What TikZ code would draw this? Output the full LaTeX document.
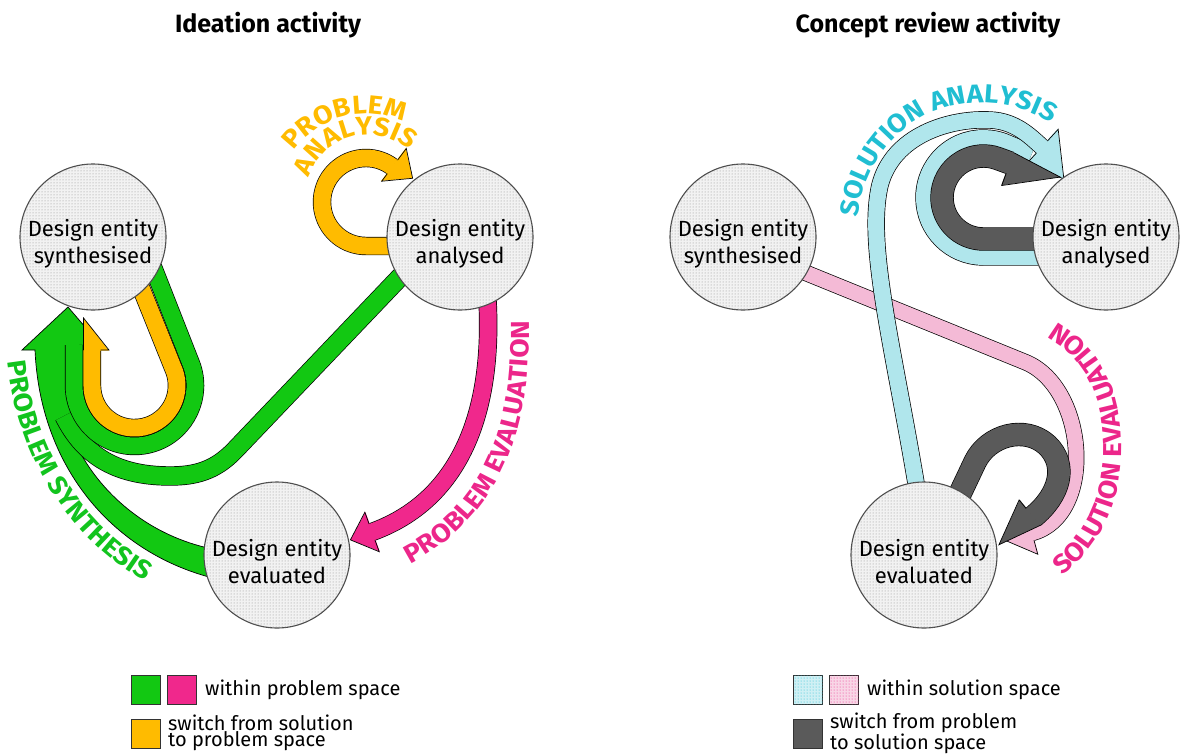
\documentclass[tikz,border=0pt]{standalone}
\usepackage{fontspec}
\setmainfont{Fira Sans}
\newfontfamily\tagfont{Fira Sans}[FakeStretch=1.08]
\usetikzlibrary{positioning,calc,decorations.markings,decorations.text,patterns}

\definecolor{probgreen}{RGB}{18,200,18}
\definecolor{probpink}{RGB}{240,40,140}
\definecolor{swyellow}{RGB}{255,187,0}
\definecolor{swgray}{RGB}{90,90,90}
\definecolor{solcyan}{RGB}{176,230,236}
\definecolor{solpink}{RGB}{244,186,214}
\definecolor{txtcyan}{RGB}{32,190,210}
\definecolor{txtpink}{RGB}{236,38,138}
\definecolor{txtgreen}{RGB}{18,196,30}

\newcommand{\entitytext}[1]{\rule{0pt}{31pt}Design entity\\#1}

\pgfdeclarelayer{bands}
\pgfsetlayers{bands,main}

\begin{document}
\begin{tikzpicture}[x=1pt, y=-1pt,
    entity/.style={circle, draw=black!70, line width=1.1pt, minimum size=146pt, inner sep=0pt,
        align=center, font=\fontsize{22}{27}\selectfont,
        fill=black!5, postaction={pattern=dots, pattern color=black!45}},
    heading/.style={font=\fontsize{25}{30}\selectfont\bfseries},
    band/.style n args={2}{draw=#1, line width=#2pt, line join=round,
        preaction={draw=black, line width=#2pt+1.4pt, line join=round}},
    fat/.style n args={6}{band={#1}{#2},
        postaction={decorate, decoration={markings, mark=at position 0.9999 with {
            \fill[#1] (-0.6pt,-#4pt) -- (#5pt,#6pt) -- (-0.6pt,#3pt) -- cycle;
            \draw[black, line width=0.7pt, line join=miter] (0pt,{#2*0.5pt}) -- (0pt,#3pt)
                -- (#5pt,#6pt) -- (0pt,-#4pt) -- (0pt,{-#2*0.5pt});}}}},
    curved/.style n args={2}{decorate, decoration={text along path, text align=center,
        text={|\tagfont\fontsize{26}{26}\selectfont\bfseries\color{#1}|#2}}},
    key/.style={draw=black!80, line width=1pt, minimum size=29pt, inner sep=0pt},
    keytext/.style={font=\fontsize{20}{15}\selectfont, align=left, inner sep=0pt}
]
\useasboundingbox (0,0) rectangle (1184,753);

\node[heading] (titleL) at (268,25) {Ideation activity};
\node[heading] (titleR) at (928,25) {Concept review activity};

\node[entity] (synL) at (93,237) {\entitytext{synthesised}};
\node[entity] (anaL) at (460,237) {\entitytext{analysed}};
\node[entity] (evaL) at (277,555) {\entitytext{evaluated}};
\node[entity] (synR) at (743,237) {\entitytext{synthesised}};
\node[entity] (anaR) at (1106,237) {\entitytext{analysed}};
\node[entity] (evaR) at (924,555) {\entitytext{evaluated}};

\begin{pgfonlayer}{bands}
% ideation: problem synthesis swoosh
\filldraw[fill=probgreen, draw=black, line width=0.7pt]
  ($(evaL.center)+(-69,-7)$) .. controls (130,530) and (80,470) .. (66,418) -- (86,395) -- (86,328)
  -- (68,307) -- (22,350) -- (35,350) .. controls (40,465) and (110,550) .. (209,577) -- cycle;
\draw[band={probgreen}{18}] ($(anaL.center)+(-58,38)$) -- (235,450)
  .. controls (215,471) and (195,476) .. (170,476) .. controls (112,476) and (82,452) .. (64,416);
\draw[band={probgreen}{17}] ($(synL.center)+(60,30)$) -- (191.4,364.8)
  arc[start angle=20, end angle=-180, radius=60.5pt] -- (74,345);
\draw[fat={swyellow}{17}{8.5}{17}{32}{8.5}] ($(synL.center)+(46,46)$) -- (174.4,371)
  arc[start angle=20, end angle=-180, radius=42.5pt] -- (92,350);
% problem analysis loop
\draw[fat={swyellow}{17}{23}{18}{23}{3}] ($(anaL.center)+(-60,9)$) -- (366,246)
  arc[start angle=270, end angle=53, radius=44pt];
% problem evaluation
\draw[fat={probpink}{17}{21}{21}{23}{0}] ($(anaL.center)+(27,55)$) to[out=-86, in=20] (372,532);

% concept review
\draw[fat={solpink}{15}{22}{16}{28}{0}] ($(synR.center)+(41,27)$) -- (1025,362)
  to[out=-22, in=15] (1032,533);
\draw[band={solcyan}{26}] ($(anaR.center)+(-58,15)$) -- (983.5,252)
  arc[start angle=270, end angle=70, radius=54.5pt] -- (1030,158);
\draw[fat={solcyan}{16}{24}{20}{38}{-9}] ($(evaR.center)+(-7,-66)$)
  .. controls (893,345) and (866,245) .. (880,185) .. controls (893,135) and (950,118) .. (990,120)
  .. controls (1015,121) and (1030,136) .. (1042,147);
\draw[fat={swgray}{22}{11}{24}{52}{4}] ($(anaR.center)+(-58,2)$) -- (983.5,239)
  arc[start angle=270, end angle=70, radius=41.5pt] -- (1010,163);
\draw[fat={swgray}{22}{11}{22}{44}{0}] ($(evaR.center)+(33,-55)$) -- (975,462)
  .. controls (988,435) and (1025,425) .. (1047,445) .. controls (1068,465) and (1060,495) .. (1033,517);
\end{pgfonlayer}

% activity labels
\path[curved={swyellow}{PROBLEM}] (279.3,186.7) arc[start angle=170, end angle=40, radius=88pt];
\path[curved={swyellow}{ANALYSIS}] (306,202) arc[start angle=185, end angle=25, radius=62pt];
\path[curved={txtgreen}{PROBLEM SYNTHESIS}] (5,320) .. controls (6,440) and (60,548) .. (182,600);
\path[curved={txtpink}{PROBLEM EVALUATION}] (378,578) .. controls (492,536) and (540,440) .. (527,286);
\path[curved={txtcyan}{SOLUTION ANALYSIS}] (856,256) .. controls (850,165) and (905,106) .. (975,103)
  .. controls (1015,101) and (1052,118) .. (1082,146);
\path[curved={txtpink}{SOLUTION EVALUATION}] (1022,598) .. controls (1098,568) and (1127,500) .. (1121,430)
  .. controls (1116,365) and (1078,320) .. (1014,306);

% legends
\node[key, fill=probgreen] (keyGreen) at (146,690) {};
\node[key, fill=probpink, right=6pt of keyGreen] (keyPink) {};
\node[keytext, right=8pt of keyPink] (keyProb) {within problem space};
\node[key, fill=swyellow] (keyYellow) at (146,734) {};
\node[keytext, right=7pt of keyYellow, yshift=1pt] (keySwitchL) {switch from solution\\to problem space};

\node[key, fill=solcyan!60, postaction={pattern=dots, pattern color=txtcyan}] (keyCyan) at (808,690) {};
\node[key, fill=solpink!60, postaction={pattern=dots, pattern color=txtpink}, right=6pt of keyCyan] (keyRose) {};
\node[keytext, right=8pt of keyRose] (keySol) {within solution space};
\node[key, fill=swgray] (keyGray) at (808,734) {};
\node[keytext, right=7pt of keyGray, yshift=1pt] (keySwitchR) {switch from problem\\to solution space};
\end{tikzpicture}
\end{document}
